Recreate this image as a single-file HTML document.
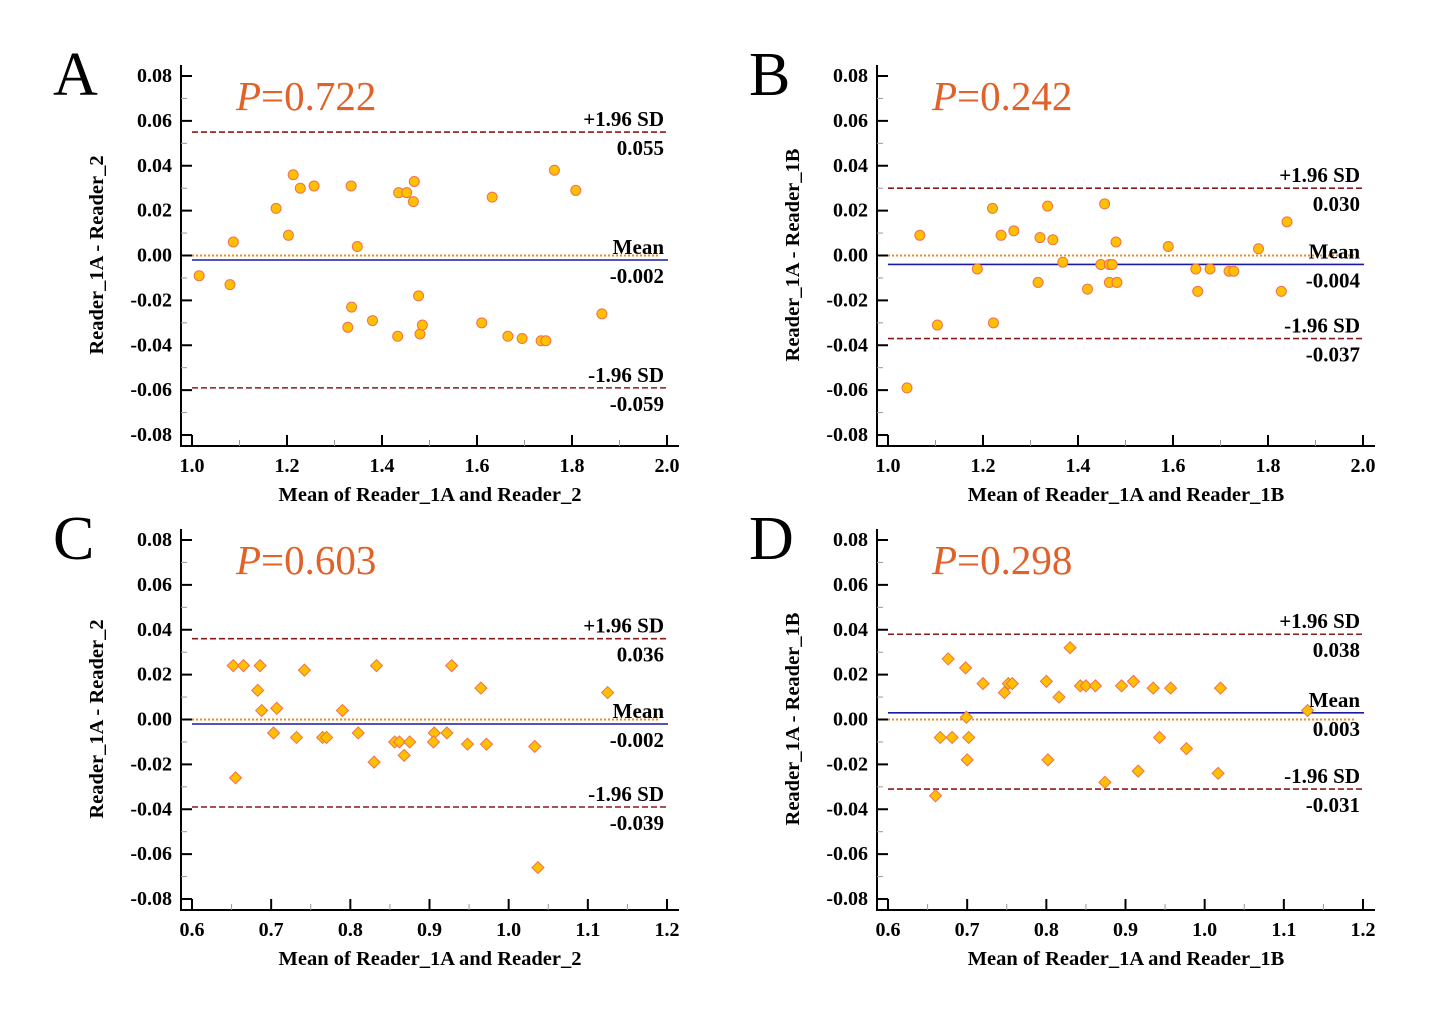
<!DOCTYPE html>
<html><head><meta charset="utf-8"><style>
html,body{margin:0;padding:0;background:#fff;}
svg{display:block;font-family:"Liberation Serif",serif;}
</style></head><body>
<svg id="chart" width="1431" height="1024" viewBox="0 0 1431 1024" xmlns="http://www.w3.org/2000/svg"></svg>
<script>
// Panel A data
const aX=[1.015,1.08,1.087,1.177,1.203,1.213,1.228,1.257,1.335,1.348,1.328,1.336,1.38,1.435,1.452,1.468,1.466,1.433,1.477,1.48,1.485,1.61,1.632,1.665,1.695,1.735,1.745,1.763,1.808,1.863];
const aY=[-0.009,-0.013,0.006,0.021,0.009,0.036,0.030,0.031,0.031,0.004,-0.032,-0.023,-0.029,0.028,0.028,0.033,0.024,-0.036,-0.018,-0.035,-0.031,-0.030,0.026,-0.036,-0.037,-0.038,-0.038,0.038,0.029,-0.026];
// Panel B data
const bX=[1.04,1.067,1.104,1.188,1.22,1.222,1.238,1.265,1.316,1.32,1.336,1.347,1.368,1.42,1.448,1.456,1.466,1.472,1.466,1.48,1.482,1.59,1.648,1.652,1.678,1.718,1.728,1.78,1.828,1.84];
const bY=[-0.059,0.009,-0.031,-0.006,0.021,-0.030,0.009,0.011,-0.012,0.008,0.022,0.007,-0.003,-0.015,-0.004,0.023,-0.004,-0.004,-0.012,0.006,-0.012,0.004,-0.006,-0.016,-0.006,-0.007,-0.007,0.003,-0.016,0.015];
// Panel C data
const cX=[0.652,0.665,0.686,0.683,0.688,0.655,0.703,0.707,0.732,0.742,0.765,0.77,0.79,0.81,0.83,0.833,0.856,0.862,0.868,0.875,0.906,0.905,0.922,0.928,0.948,0.965,0.972,1.033,1.037,1.125];
const cY=[0.024,0.024,0.024,0.013,0.004,-0.026,-0.006,0.005,-0.008,0.022,-0.008,-0.008,0.004,-0.006,-0.019,0.024,-0.010,-0.010,-0.016,-0.010,-0.006,-0.010,-0.006,0.024,-0.011,0.014,-0.011,-0.012,-0.066,0.012];
// Panel D data
const dX=[0.66,0.666,0.676,0.681,0.698,0.699,0.702,0.7,0.72,0.747,0.752,0.757,0.8,0.802,0.816,0.83,0.843,0.85,0.862,0.874,0.895,0.91,0.916,0.935,0.943,0.957,0.977,1.017,1.02,1.13];
const dY=[-0.034,-0.008,0.027,-0.008,0.023,0.001,-0.008,-0.018,0.016,0.012,0.016,0.016,0.017,-0.018,0.010,0.032,0.015,0.015,0.015,-0.028,0.015,0.017,-0.023,0.014,-0.008,0.014,-0.013,-0.024,0.014,0.004];
// Reference lines [upper, mean, lower]
const aLines=[0.055,-0.002,-0.059];
const bLines=[0.030,-0.004,-0.037];
const cLines=[0.036,-0.002,-0.039];
const dLines=[0.038,0.003,-0.031];
const aLabels=["0.055","-0.002","-0.059"];
const bLabels=["0.030","-0.004","-0.037"];
const cLabels=["0.036","-0.002","-0.039"];
const dLabels=["0.038","0.003","-0.031"];
const yTicks=[0.08,0.06,0.04,0.02,0,-0.02,-0.04,-0.06,-0.08];
const yTickLabels=["0.08","0.06","0.04","0.02","0.00","-0.02","-0.04","-0.06","-0.08"];
const xTicksAB=[1.0,1.2,1.4,1.6,1.8,2.0];
const xTickLabelsAB=["1.0","1.2","1.4","1.6","1.8","2.0"];
const xTicksCD=[0.6,0.7,0.8,0.9,1.0,1.1,1.2];
const xTickLabelsCD=["0.6","0.7","0.8","0.9","1.0","1.1","1.2"];
const pValues=["0.722","0.242","0.603","0.298"];

const NS="http://www.w3.org/2000/svg";
const svg=document.getElementById('chart');
function mk(tag,attrs,parent,text){
  const e=document.createElementNS(NS,tag);
  for(const k in attrs) e.setAttribute(k,attrs[k]);
  if(text!==undefined) e.textContent=text;
  (parent||svg).appendChild(e);return e;
}
function panel(o){
  const g=mk('g',{});
  
  
  const ox=o.ox, oy=o.oy;
  const axX=ox+181, xL=ox+192, xR=ox+667, yTop=oy+76, yBot=oy+435, axY=oy+446;
  const sx=v=>xL+(v-o.xmin)/(o.xmax-o.xmin)*(xR-xL);
  const sy=v=>yTop+(0.08-v)/0.16*(yBot-yTop);
  const L=mk('text',{x:ox+53,y:oy+95,'font-size':62,fill:'#000'},g,o.id);
  
  
  const ya=mk('line',{x1:axX,y1:oy+65,x2:axX,y2:axY,stroke:'#000','stroke-width':2},g);
  
  
  const xa=mk('line',{x1:axX-1,y1:axY,x2:ox+679,y2:axY,stroke:'#000','stroke-width':2},g);
  
  
  yTicks.forEach((v,i)=>{
    const y=sy(v);
    mk('line',{x1:axX,y1:y,x2:axX+11,y2:y,stroke:'#000','stroke-width':2},g);
    if(i<yTicks.length-1){const ym=sy(v-0.01);mk('line',{x1:axX,y1:ym,x2:axX+6,y2:ym,stroke:'#999','stroke-width':1},g);}
    const t=mk('text',{x:ox+172,y:y+6,'font-size':20,'font-weight':'bold','text-anchor':'end'},g,yTickLabels[i]);
    
    
  });
  const step=(o.xt[1]-o.xt[0]);
  o.xt.forEach((v,i)=>{
    const x=sx(v);
    mk('line',{x1:x,y1:axY,x2:x,y2:axY-11,stroke:'#000','stroke-width':2},g);
    if(i<o.xt.length-1 && o.minor){const xm=sx(v+step/2);mk('line',{x1:xm,y1:axY,x2:xm,y2:axY-6,stroke:'#999','stroke-width':1},g);}
    const t=mk('text',{x:x,y:axY+26,'font-size':20,'font-weight':'bold','text-anchor':'middle'},g,o.xl[i]);
    
    
  });
  const yt=mk('text',{x:0,y:0,'font-size':20.5,'font-weight':'bold','text-anchor':'middle',transform:`translate(${ox+103},${oy+255}) rotate(-90)`},g,o.ytitle);
  
  
  const xt=mk('text',{x:ox+430,y:oy+501,'font-size':20.5,'font-weight':'bold','text-anchor':'middle'},g,o.xtitle);
  
  
  const p=mk('text',{x:ox+236,y:oy+110,'font-size':41,fill:'#e0622a'},g);
  
  
  mk('tspan',{'font-style':'italic'},p,'P');
  mk('tspan',{},p,'='+o.p);
  const zl=mk('line',{x1:xL,y1:sy(0),x2:ox+660,y2:sy(0),stroke:'#f28a1c','stroke-width':2,'stroke-dasharray':'2,2'},g);
  
  
  const names=['upper-limit-line','mean-line','lower-limit-line'];
  const heads=['+1.96 SD','Mean','-1.96 SD'];
  o.lines.forEach((v,i)=>{
    const y=sy(v);
    const ln= i==1 ? mk('line',{x1:xL,y1:y,x2:xR+1,y2:y,stroke:'#1a1aa6','stroke-width':1.6},g)
                   : mk('line',{x1:xL,y1:y,x2:xR+1,y2:y,stroke:'#8b1a1a','stroke-width':1.6,'stroke-dasharray':'6,3'},g);
    
    
    const h=mk('text',{x:ox+664,y:y-6,'font-size':21,'font-weight':'bold','text-anchor':'end'},g,heads[i]);
    
    
    const vl=mk('text',{x:ox+664,y:y+23,'font-size':21,'font-weight':'bold','text-anchor':'end'},g,o.labels[i]);
    
    
  });
  o.xs.forEach((xv,i)=>{
    const x=sx(xv), y=sy(o.ys[i]);
    let m;
    if(o.diamond) m=mk('polygon',{points:`${x},${y-6} ${x+6},${y} ${x},${y+6} ${x-6},${y}`,fill:'#ffc000',stroke:'#f07050','stroke-width':1},g);
    else m=mk('circle',{cx:x,cy:y,r:5,fill:'#ffc000',stroke:'#f07050','stroke-width':1},g);
    
    
  });
}
panel({id:'A',ox:0,oy:0,xmin:1.0,xmax:2.0,xt:xTicksAB,xl:xTickLabelsAB,minor:true,xs:aX,ys:aY,lines:aLines,labels:aLabels,p:pValues[0],ytitle:'Reader_1A - Reader_2',xtitle:'Mean of Reader_1A and Reader_2',diamond:false});
panel({id:'B',ox:696,oy:0,xmin:1.0,xmax:2.0,xt:xTicksAB,xl:xTickLabelsAB,minor:true,xs:bX,ys:bY,lines:bLines,labels:bLabels,p:pValues[1],ytitle:'Reader_1A - Reader_1B',xtitle:'Mean of Reader_1A and Reader_1B',diamond:false});
panel({id:'C',ox:0,oy:464,xmin:0.6,xmax:1.2,xt:xTicksCD,xl:xTickLabelsCD,minor:true,xs:cX,ys:cY,lines:cLines,labels:cLabels,p:pValues[2],ytitle:'Reader_1A - Reader_2',xtitle:'Mean of Reader_1A and Reader_2',diamond:true});
panel({id:'D',ox:696,oy:464,xmin:0.6,xmax:1.2,xt:xTicksCD,xl:xTickLabelsCD,minor:true,xs:dX,ys:dY,lines:dLines,labels:dLabels,p:pValues[3],ytitle:'Reader_1A - Reader_1B',xtitle:'Mean of Reader_1A and Reader_1B',diamond:true});
</script>
</body></html>
